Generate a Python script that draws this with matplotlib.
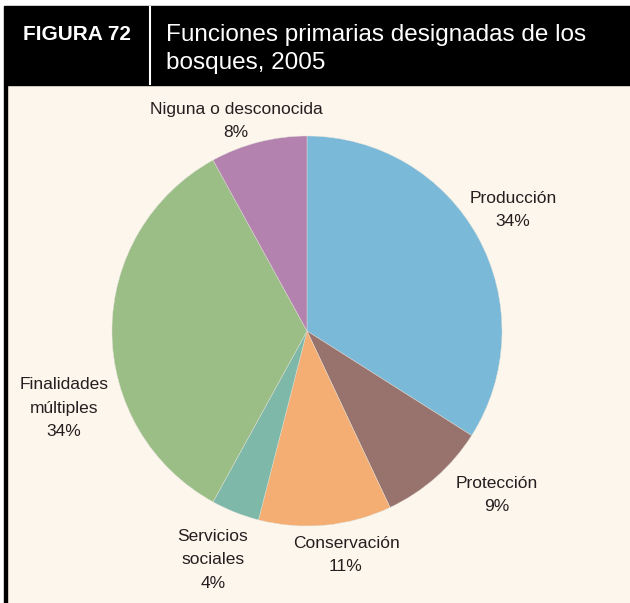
import numpy as np
import matplotlib.pyplot as plt
from matplotlib.patches import Rectangle

# Data
categories = ['Producción', 'Protección', 'Conservación', 'Servicios\nsociales',
              'Finalidades\nmúltiples', 'Niguna o desconocida']
values = [34, 9, 11, 4, 34, 8]
colors = ['#7bb9d9', '#98736d', '#f4ae73', '#7eb8a8', '#9bbe87', '#b482ae']

# label centres in pixel coords (x, y from top)
label_pos = [(513, 210), (497, 495), (346, 555), (213, 560), (64, 408), (236, 121)]

W, H = 630, 603
fig = plt.figure(figsize=(W / 100, H / 100), dpi=100)
ax = fig.add_axes([0, 0, 1, 1])

#Background, header and frame
ax.add_patch(Rectangle((0, 0), W, H, color='white', zorder=0))
ax.add_patch(Rectangle((5, 0), W - 5, H - 85, color='#fdf6ec', zorder=0))
ax.add_patch(Rectangle((4, H - 85), W - 4, 79, color='black', zorder=1))
ax.add_patch(Rectangle((4, 0), 2.5, H - 85, color='black', zorder=1))
ax.plot([150, 150], [H - 84, H - 7], color='white', lw=1.5, zorder=2)

ax.text(77, H - 34, 'FIGURA 72', color='white', fontsize=15, fontweight='heavy',
        family=['Liberation Sans', 'DejaVu Sans'], ha='center', va='center', zorder=3)
ax.text(166, H - 49, 'Funciones primarias designadas de los\nbosques, 2005', color='white',
        fontsize=17.5, family=['Liberation Sans', 'DejaVu Sans'], ha='left', va='center',
        linespacing=1.38, zorder=3)

#Pie chart
ax.pie(values, colors=colors, startangle=90, counterclock=False,
       center=(307, H - 331), radius=195, frame=True,
       wedgeprops={'linewidth': 0.3, 'edgecolor': '#e0e0d8'})
ax.set_xlim(0, W)
ax.set_ylim(0, H)
ax.axis('off')

for cat, v, (x, y) in zip(categories, values, label_pos):
    ax.text(x, H - y, f'{cat}\n{v}%', ha='center', va='center', fontsize=12.5,
            family=['Liberation Sans Narrow', 'Liberation Sans', 'DejaVu Sans'],
            color='#231f20', linespacing=1.7, zorder=4)

fig.savefig('out.png', dpi=100)
